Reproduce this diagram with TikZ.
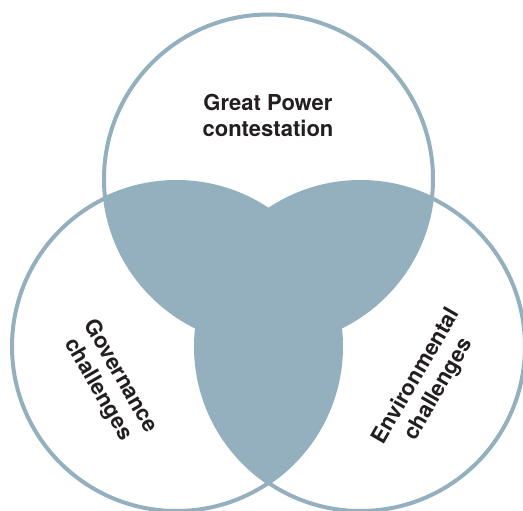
\documentclass[tikz,border=0pt]{standalone}
\usepackage{fontspec}
\setmainfont{TeX Gyre Heros}
\newfontfamily\lblfont{TeX Gyre Heros}
\definecolor{venn}{HTML}{94B0BF}
\definecolor{ink}{HTML}{231F20}
\begin{document}
\begin{tikzpicture}[x=1pt,y=-1pt,
  ring/.style={draw=venn,line width=4pt},
  lbl/.style={align=center,font=\lblfont\bfseries\fontsize{22}{26}\selectfont,text=ink,inner sep=0pt}]
\useasboundingbox (0,0) rectangle (523,511);
\clip (0,0) rectangle (523,511);
\coordinate (T) at (268.5,179);
\coordinate (L) at (176.5,346.5);
\coordinate (R) at (360.5,346.5);
\def\rad{164.5pt}
% pairwise intersections
\begin{scope}
  \clip (T) circle[radius=\rad];
  \fill[venn] (L) circle[radius=\rad];
  \fill[venn] (R) circle[radius=\rad];
\end{scope}
\begin{scope}
  \clip (L) circle[radius=\rad];
  \fill[venn] (R) circle[radius=\rad];
\end{scope}
% outlines
\draw[ring] (T) circle[radius=\rad];
\draw[ring] (L) circle[radius=\rad];
\draw[ring] (R) circle[radius=\rad];
% labels
\node[lbl] (gp) at (268,115) {Great Power\\contestation};
\node[lbl,rotate=-60] (gov) at (109,383) {Governance\\challenges};
\node[lbl,rotate=60] (env) at (428,383) {Environmental\\challenges};
\end{tikzpicture}
\end{document}
